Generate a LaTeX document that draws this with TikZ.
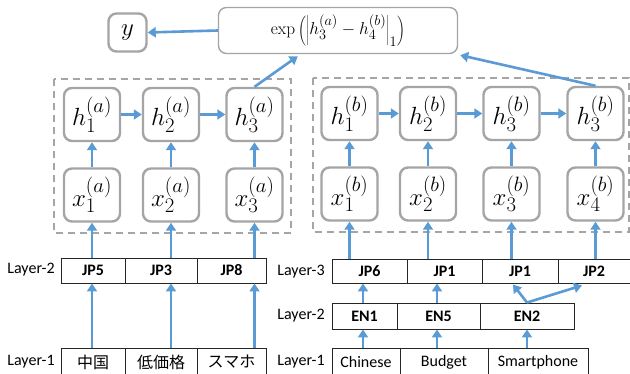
\documentclass[tikz,border=0pt]{standalone}
\usepackage[no-math]{fontspec}
\setmainfont{Carlito}
\newfontfamily\jpfont{Noto Sans CJK JP}
\usetikzlibrary{arrows.meta}
\DeclareMathSizes{25}{25}{20}{16}
\DeclareMathSizes{19}{19}{15}{12}
\definecolor{arrblue}{HTML}{5B9BD5}
\definecolor{nodegray}{HTML}{A5A5A5}
\begin{document}
\begin{tikzpicture}[x=1pt,y=-1pt,
  hx/.style={draw=nodegray, line width=2.4pt, rounded corners=8pt, minimum width=56pt, minimum height=53pt, inner sep=0pt, fill=white, font=\fontsize{25}{29}\selectfont},
  lbox/.style={draw=black!85, line width=0.9pt, minimum height=25pt, inner sep=0pt, font=\fontsize{16}{19}\selectfont\bfseries},
  wbox/.style={draw=black!85, line width=0.9pt, minimum height=28pt, inner sep=0pt, font=\fontsize{16}{19}\selectfont},
  lab/.style={inner sep=0pt, font=\fontsize{16}{19}\selectfont},
  arr/.style={draw=arrblue, line width=2.6pt, -{Triangle[length=8pt,width=10pt]}},
  grp/.style={draw=nodegray, line width=1.5pt, dash pattern=on 7pt off 5pt}]
\clip (0,0) rectangle (630,374);
\fill[white] (0,0) rectangle (630,374);
% groups
\draw[grp] (54,79) rectangle (291,233);
\draw[grp] (313,78) rectangle (629,232);
% top
\node[hx, minimum width=38pt, minimum height=38pt] (y) at (127.5,32.5) {$y$};
\node[draw=nodegray, line width=1.4pt, rounded corners=8pt, minimum width=239pt, minimum height=46pt, inner sep=0pt, font=\fontsize{19}{23}\selectfont] (exp) at (338,30.5) {$\exp\left(\left|h_3^{(a)}-h_4^{(b)}\right|_1\right)$};
% left h/x
\node[hx] (h1a) at (92,114.5) {$h_1^{(a)}$};
\node[hx] (h2a) at (171,114.5) {$h_2^{(a)}$};
\node[hx] (h3a) at (254.5,114.5) {$h_3^{(a)}$};
\node[hx] (x1a) at (92,195) {$x_1^{(a)}$};
\node[hx] (x2a) at (171,195) {$x_2^{(a)}$};
\node[hx] (x3a) at (254.5,195) {$x_3^{(a)}$};
% right h/x
\node[hx] (h1b) at (349.5,113.5) {$h_1^{(b)}$};
\node[hx] (h2b) at (428,113.5) {$h_2^{(b)}$};
\node[hx] (h3b) at (511.5,113.5) {$h_3^{(b)}$};
\node[hx] (h4b) at (595.5,113.5) {$h_3^{(b)}$};
\node[hx] (x1b) at (349.5,194) {$x_1^{(b)}$};
\node[hx] (x2b) at (428,194) {$x_2^{(b)}$};
\node[hx] (x3b) at (511.5,194) {$x_3^{(b)}$};
\node[hx] (x4b) at (595.5,194) {$x_4^{(b)}$};
% left layers
\node[lbox, minimum width=64pt] (jp5) at (93,270.5) {JP5};
\node[lbox, minimum width=72pt] (jp3) at (161,270.5) {JP3};
\node[lbox, minimum width=69pt] (jp8) at (231.5,270.5) {JP8};
\node[wbox, minimum width=64pt, font=\fontsize{16}{19}\jpfont] (zh) at (93,362) {中国};
\node[wbox, minimum width=72pt, font=\fontsize{16}{19}\jpfont] (lp) at (161,362) {低価格};
\node[wbox, minimum width=69pt, font=\fontsize{16}{19}\jpfont] (sm) at (231.5,362) {スマホ};
\node[lab] (l2a) at (31,270) {Layer-2};
\node[lab] (l1a) at (31,362) {Layer-1};
% right layers
\node[lbox, minimum width=75pt, minimum height=24pt] (jp6) at (369.5,271) {JP6};
\node[lbox, minimum width=75pt, minimum height=24pt] (jp1a) at (444.5,271) {JP1};
\node[lbox, minimum width=76pt, minimum height=24pt] (jp1b) at (520,271) {JP1};
\node[lbox, minimum width=72pt, minimum height=24pt] (jp2) at (594,271) {JP2};
\node[lbox, minimum width=65pt, minimum height=26pt] (en1) at (364.5,316) {EN1};
\node[lbox, minimum width=83pt, minimum height=26pt] (en5) at (438.5,316) {EN5};
\node[lbox, minimum width=94pt, minimum height=26pt] (en2) at (527,316) {EN2};
\node[wbox, minimum width=68pt] (chn) at (366,362) {Chinese};
\node[wbox, minimum width=88pt] (bud) at (444,362) {Budget};
\node[wbox, minimum width=100pt] (sp) at (538,362) {Smartphone};
\node[lab] (l3b) at (301,272) {Layer-3};
\node[lab] (l2b) at (301,316) {Layer-2};
\node[lab] (l1b) at (301,362) {Layer-1};
% arrows left
\foreach \w/\j/\x in {zh/jp5/x1a, lp/jp3/x2a, sm/jp8/x3a}{
  \draw[arr] (\w.north -| \x.south) -- (\j.south -| \x.south);
  \draw[arr] (\j.north -| \x.south) -- (\x.south);
}
\foreach \x/\h in {x1a/h1a, x2a/h2a, x3a/h3a, x1b/h1b, x2b/h2b, x3b/h3b, x4b/h4b}{
  \draw[arr] (\x.north) -- (\h.south);
}
\draw[arr] (h1a) -- (h2a);
\draw[arr] (h2a) -- (h3a);
\draw[arr] (h1b) -- (h2b);
\draw[arr] (h2b) -- (h3b);
\draw[arr] (h3b) -- (h4b);
% right arrows
\foreach \j/\x in {jp6/x1b, jp1a/x2b, jp1b/x3b, jp2/x4b}{
  \draw[arr] (\j.north -| \x.south) -- (\x.south);
}
\draw[arr] (chn.north -| 363,0) -- (en1.south -| 363,0);
\draw[arr] (en1.north -| 363,0) -- (jp6.south -| 363,0);
\draw[arr] (bud.north -| 437,0) -- (en5.south -| 437,0);
\draw[arr] (en5.north -| 437,0) -- (jp1a.south -| 437,0);
\draw[arr] (sp.north -| en2.south) -- (en2.south);
\draw[arr] (en2.north) -- ([xshift=-7pt,yshift=-1pt]jp1b.south);
\draw[arr] (en2.north) -- ([xshift=-12pt,yshift=-2pt]jp2.south);
% top arrows
\draw[arr] (h3a.north) -- ([xshift=80pt,yshift=-2pt]exp.south west);
\draw[arr] (h4b.north) -- ([xshift=2pt,yshift=-1pt]exp.south east);
\draw[arr] (exp.west) -- (y.east);
\end{tikzpicture}
\end{document}
